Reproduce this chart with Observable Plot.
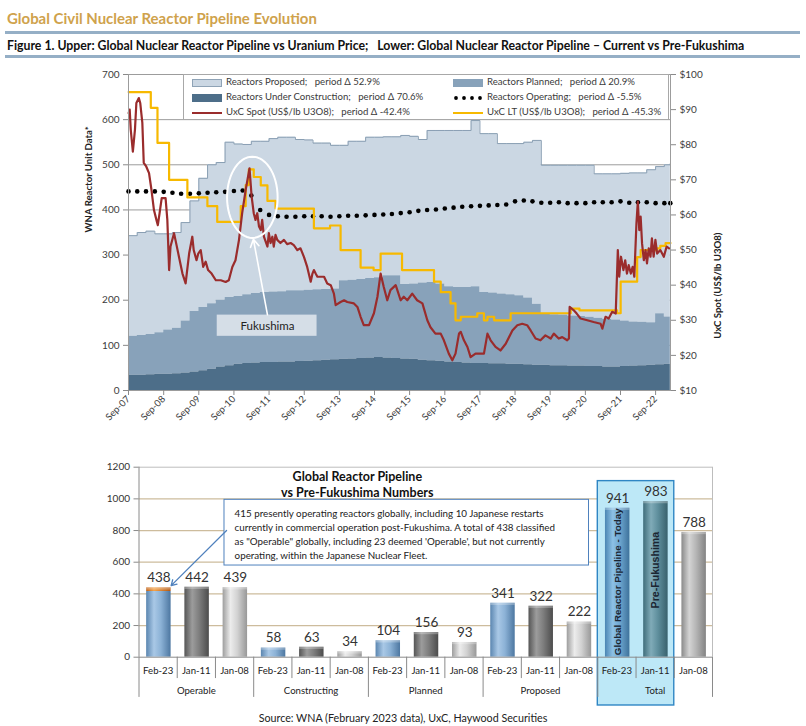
<!DOCTYPE html>
<html><head><meta charset="utf-8">
<script src="https://cdn.jsdelivr.net/npm/d3@7"></script>
<script src="https://cdn.jsdelivr.net/npm/@observablehq/plot@0.6"></script>
<style>
body{margin:0;background:#fff;font-family:Lato,"Open Sans",sans-serif;}
#page{position:relative;width:806px;height:726px;overflow:hidden;background:#fff;}
.abs{position:absolute;}
.rule{position:absolute;left:5px;width:795px;height:3px;background:#95afc6;}
#title{left:7px;top:9px;font-weight:bold;font-size:13px;color:#cfa24c;white-space:pre;}
#subtitle{left:7px;top:38px;font-weight:bold;font-size:11px;color:#111;white-space:pre;}
#caption{left:0;width:806px;top:711px;text-align:center;font-size:10.5px;line-height:13px;color:#222;}
#legend{left:183px;top:74px;width:486px;height:46px;background:#fff;border:1px solid #a8a8a8;box-sizing:border-box;}
.lg{position:absolute;font-size:9.6px;color:#3a3a3a;white-space:pre;line-height:12px;}
.sw{position:absolute;}
</style></head>
<body><div id="page">
<div id="title" class="abs"><span id="titleText">Global Civil Nuclear Reactor Pipeline Evolution</span></div>
<div class="rule" style="top:31px"></div>
<div id="subtitle" class="abs"><span id="subText">Figure 1. Upper: Global Nuclear Reactor Pipeline vs Uranium Price;   Lower: Global Nuclear Reactor Pipeline – Current vs Pre-Fukushima</span></div>
<div class="rule" style="top:55px"></div>
<div id="upper" class="abs" style="left:0;top:60px"></div>
<div id="legend" class="abs"></div>
<div id="lower" class="abs" style="left:0;top:455px"></div>
<div id="caption" class="abs"><span id="capText">Source: WNA (February 2023 data), UxC, Haywood Securities</span></div>
</div>
<script>
// ---------------- DATA: upper chart ----------------
const quarters = ["2007-09","2007-12",
"2008-03","2008-06","2008-09","2008-12","2009-03","2009-06","2009-09","2009-12",
"2010-03","2010-06","2010-09","2010-12","2011-03","2011-06","2011-09","2011-12",
"2012-03","2012-06","2012-09","2012-12","2013-03","2013-06","2013-09","2013-12",
"2014-03","2014-06","2014-09","2014-12","2015-03","2015-06","2015-09","2015-12",
"2016-03","2016-06","2016-09","2016-12","2017-03","2017-06","2017-09","2017-12",
"2018-03","2018-06","2018-09","2018-12","2019-03","2019-06","2019-09","2019-12",
"2020-03","2020-06","2020-09","2020-12","2021-03","2021-06","2021-09","2021-12",
"2022-03","2022-06","2022-09","2022-12","2023-02"];
const underConstruction = [34,34,35,36,36,37,39,41,44,47, 52,55,58,60,61,62,62,63,63,64,
  65,66,67,68,69,70,71,72,73,72, 71,70,69,67,66,65,63,62,61,60,
  60,59,59,58,58,57,56,56,55,55, 54,54,53,53,52,52,53,54,55,56, 57,58,58];
const plannedUnits = [86,88,89,92,98,101,115,134,140,145, 148,151,150,152,154,155,156,156,158,157,
  157,157,157,157,174,174,175,176,177,182, 183,165,167,171,173,171,167,166,167,170,
  157,157,155,154,152,148,135,113,113,112, 111,110,109,107,106,104,101,98,96,94, 113,105,104];
const proposedUnits = [223,228,229,219,213,212,218,245,286,308, 305,344,338,333,337,335,340,342,340,335,
  333,325,324,318,300,308,306,313,311,308, 308,330,327,318,337,340,346,348,348,368,
  352,353,333,335,337,345,363,330,331,332, 334,335,337,320,322,324,327,330,331,339, 326,337,341];
const operatingUnits = [441,441,441,441,440,438,436,436,437,438, 439,440,442,443,432,400,389,386,385,385,
  386,386,386,385,386,387,387,388,389,390, 391,393,395,398,400,401,403,405,407,408,
  409,410,411,412,419,421,419,416,416,417, 415,415,415,417,417,417,419,416,417,417, 415,415,415];
// UxC spot price, [decimal year, US$/lb]
const uxcSpot = [[2007.67,89],[2007.70,90],[2007.73,84.3],[2007.79,78],[2007.85,84.3],[2007.89,91.9],[2007.96,93.3],[2008.00,91.9],[2008.06,86.2],[2008.10,74.8],[2008.17,73.8],[2008.25,71.9],[2008.32,67.1],[2008.39,61.4],[2008.46,58.6],[2008.50,57.1],[2008.55,60.5],[2008.61,64.8],[2008.72,64.8],[2008.77,58.6],[2008.82,44.3],[2008.86,51],[2008.96,54.8],[2009.00,52.9],[2009.10,48.1],[2009.20,43.3],[2009.29,40.5],[2009.39,49],[2009.48,53.8],[2009.52,50],[2009.60,47.1],[2009.65,49],[2009.72,50],[2009.79,45.2],[2009.86,46.7],[2009.93,44.3],[2010.03,43.3],[2010.15,41.4],[2010.29,41.4],[2010.43,40.9],[2010.52,41.4],[2010.62,45.2],[2010.71,47.1],[2010.81,52.9],[2010.90,60.5],[2011.00,67.1],[2011.11,73.3],[2011.17,65.2],[2011.23,60.5],[2011.28,58.6],[2011.33,60.5],[2011.38,56.7],[2011.43,55.7],[2011.47,58.6],[2011.52,53.8],[2011.62,51],[2011.66,54.8],[2011.71,52],[2011.76,53.8],[2011.80,51],[2011.85,54.3],[2011.90,52.9],[2011.99,52],[2012.09,52.9],[2012.18,51.7],[2012.28,52],[2012.37,51.4],[2012.47,50],[2012.56,50.5],[2012.66,48],[2012.75,45.2],[2012.85,41],[2012.90,43.3],[2012.94,44.3],[2012.99,43.3],[2013.04,42.4],[2013.13,42.4],[2013.23,42.4],[2013.32,40.5],[2013.42,40],[2013.51,37.6],[2013.56,34.3],[2013.70,35.2],[2013.80,35.7],[2013.89,35.2],[2014.08,34.8],[2014.18,33.8],[2014.27,31],[2014.36,28.6],[2014.51,28.6],[2014.65,32],[2014.75,36.7],[2014.84,43.3],[2014.93,39.5],[2015.03,35.7],[2015.12,38.6],[2015.27,40],[2015.41,35.7],[2015.50,36.7],[2015.60,35.7],[2015.74,37.6],[2015.88,35.7],[2016.03,34.8],[2016.17,30],[2016.26,28],[2016.40,26.2],[2016.55,26.2],[2016.64,24.3],[2016.78,20.5],[2016.88,18.6],[2016.97,20.5],[2017.07,26.2],[2017.12,26.7],[2017.21,24.3],[2017.31,22.4],[2017.40,19.5],[2017.54,20.5],[2017.68,20.5],[2017.78,20.5],[2017.88,26.2],[2017.97,24.3],[2018.11,22.4],[2018.25,21.4],[2018.40,23.3],[2018.59,27.1],[2018.73,28.6],[2018.87,29],[2019.01,28.6],[2019.11,27.1],[2019.25,24.8],[2019.39,24.3],[2019.53,25.7],[2019.68,24.8],[2019.77,26.2],[2019.91,24.8],[2020.01,25.2],[2020.15,24.3],[2020.20,24.8],[2020.22,33.8],[2020.33,32.9],[2020.42,31.9],[2020.53,30.5],[2020.72,30],[2020.90,29.5],[2021.10,29],[2021.15,27.6],[2021.24,31],[2021.33,30.5],[2021.43,32.4],[2021.53,31.9],[2021.59,50],[2021.63,42.4],[2021.68,48.1],[2021.75,44.3],[2021.80,47.1],[2021.85,43.3],[2021.90,45.7],[2021.96,43.3],[2022.01,45.2],[2022.06,42.4],[2022.12,57.6],[2022.16,63.8],[2022.20,55.7],[2022.24,59.5],[2022.28,51.9],[2022.33,47.1],[2022.38,50],[2022.42,46.2],[2022.47,50.5],[2022.52,48.1],[2022.56,53.3],[2022.61,48.1],[2022.66,52.9],[2022.71,49],[2022.80,50],[2022.90,48.1],[2022.98,51],[2023.05,50.5]];
// UxC long-term price (step changes), [decimal year, US$/lb]
const uxcLT = [[2007.67,95],[2008.30,90.5],[2008.49,80.5],[2008.82,70],[2009.34,65],[2009.91,62.5],[2010.19,58],[2010.86,62.5],[2011.00,68.5],[2011.09,73],[2011.23,70.8],[2011.43,68.4],[2011.62,64],[2011.85,61.8],[2012.94,56.2],[2013.40,57],[2013.70,50],[2014.27,45],[2014.64,44.3],[2014.84,49],[2015.45,44.3],[2016.36,41],[2016.55,38],[2016.83,34.8],[2016.97,30],[2017.12,31],[2017.59,32],[2017.78,30],[2017.88,31],[2018.07,30],[2018.54,32],[2020.25,33.3],[2020.50,32.8],[2021.57,32],[2021.67,41],[2022.14,48],[2022.24,50],[2022.71,50.5],[2022.80,51.2],[2022.95,52],[2023.09,52]];
const leftTicks = [0,100,200,300,400,500,600,700];
const priceTicks = [10,20,30,40,50,60,70,80,90,100];
const yearTicks = [2007,2008,2009,2010,2011,2012,2013,2014,2015,2016,2017,2018,2019,2020,2021,2022];

// ---------------- DATA: lower chart ----------------
const lowerGroups = ["Operable","Constructing","Planned","Proposed","Total"];
const lowerPeriods = ["Feb-23","Jan-11","Jan-08"];
const lowerValues = [[438,442,439],[58,63,34],[104,156,93],[341,322,222],[941,983,788]];
const operatingNow = 415;   // of the 438 operable
const lowerTicks = [0,200,400,600,800,1000,1200];
const noteText = "415 presently operating reactors globally, including 10 Japanese restarts\ncurrently in commercial operation post-Fukushima. A total of 438 classified\nas \"Operable\" globally, including 23 deemed 'Operable', but not currently\noperating, within the Japanese Nuclear Fleet.";

// ---------------- helpers ----------------
const toDate = t => { const y = Math.floor(t); const s = Date.UTC(y,0,1), e = Date.UTC(y+1,0,1); return new Date(s + (t-y)*(e-s)); };
const qDate = s => { const [y,m] = s.split("-").map(Number); return new Date(Date.UTC(y,m-1,1)); };
const p2u = p => (p - 10) * 700 / 90;   // right axis ($10..$100) onto left units (0..700)

const rows = quarters.map((q,i) => {
  const c = underConstruction[i], cp = c + plannedUnits[i];
  return {date:qDate(q), c, cp, total: cp + proposedUnits[i], op: operatingUnits[i]};
});
const spot = uxcSpot.map(([t,p]) => ({date:toDate(t), v:p2u(p)}));
const lt = uxcLT.map(([t,p]) => ({date:toDate(t), v:p2u(p)}));

const ell = d3.range(0,361,6).map(a => ({date: toDate(2011.19 + 0.72*Math.cos(a*Math.PI/180)), v: 428 + 90*Math.sin(a*Math.PI/180)}));

const font = "Lato, 'Open Sans', sans-serif";
const upper = Plot.plot({
  width:806, height:380, marginLeft:128, marginRight:136, marginTop:14, marginBottom:50,
  style:{fontFamily:font, fontSize:"10px", color:"#3c3c3c", background:"transparent", overflow:"visible"},
  x:{type:"utc", domain:[toDate(2007.666), toDate(2023.09)]},
  y:{domain:[0,700]},
  marks:[
    Plot.gridY([100,200,300,400,500,600], {stroke:"#9c9c9c", strokeOpacity:1}),
    Plot.areaY(rows, {x:"date", y1:"cp", y2:"total", fill:"#cbd7e3", curve:"step-after"}),
    Plot.lineY(rows, {x:"date", y:"total", stroke:"#8a9fb3", strokeWidth:1, curve:"step-after"}),
    Plot.areaY(rows, {x:"date", y1:"c", y2:"cp", fill:"#88a2ba", curve:"step-after"}),
    Plot.areaY(rows, {x:"date", y1:0, y2:"c", fill:"#4d6e89", curve:"step-after"}),
    Plot.rect([{x1:toDate(2010.19), x2:toDate(2013.03), y1:120, y2:167}], {x1:"x1", x2:"x2", y1:"y1", y2:"y2", fill:"#d5dee7"}),
    Plot.text([{date:toDate(2011.62), v:143, t:"Fukushima"}], {x:"date", y:"v", text:"t", fontSize:11.5, fill:"#222"}),
    Plot.dot(rows, {x:"date", y:"op", r:2.3, fill:"#000"}),
    Plot.line(lt, {x:"date", y:"v", curve:"step-after", stroke:"#f7b900", strokeWidth:2.2}),
    Plot.line(spot, {x:"date", y:"v", stroke:"#9a2c2c", strokeWidth:2.2}),
    Plot.line(ell, {x:"date", y:"v", stroke:"#fff", strokeWidth:2}),
    Plot.arrow([{x1:toDate(2011.62), y1:168, x2:toDate(2011.22), y2:335}], {x1:"x1", y1:"y1", x2:"x2", y2:"y2", stroke:"#fff", strokeWidth:1.6, headLength:8}),
    Plot.frame({stroke:"#9c9c9c"}),
    Plot.axisY({ticks:leftTicks, tickSize:5, tickPadding:4, label:null, stroke:"#8a8a8a", fontSize:10}),
    Plot.axisY({anchor:"right", ticks:priceTicks.map(p2u), tickFormat:v => "$" + Math.round(v*90/700 + 10), tickSize:5, tickPadding:4, label:null, stroke:"#8a8a8a", fontSize:10}),
    Plot.axisX({ticks:yearTicks.map(y => new Date(Date.UTC(y,8,1))), tickFormat:d3.utcFormat("%b-%y"), tickRotate:-45, tickSize:5, tickPadding:2, label:null, stroke:"#8a8a8a", fontSize:9.5}),
    Plot.text(["WNA Reactor Unit Data*"], {frameAnchor:"left", dx:-40, rotate:-90, text:d=>d, fontWeight:"bold", fontSize:9.6, fill:"#222"}),
    Plot.text(["UxC Spot (US$/lb U3O8)"], {frameAnchor:"right", dx:47, rotate:-90, text:d=>d, fontWeight:"bold", fontSize:9.6, fill:"#222"})
  ]
});
document.getElementById("upper").appendChild(upper);

// legend (HTML overlay inside the upper plot)
const legendItems = [
  {col:0,row:0,kind:"area",color:"#cbd7e3",stroke:"#8fa3b6",label:"Reactors Proposed;   period Δ 52.9%"},
  {col:1,row:0,kind:"area",color:"#88a2ba",stroke:"#88a2ba",label:"Reactors Planned;   period Δ 20.9%"},
  {col:0,row:1,kind:"area",color:"#4d6e89",stroke:"#4d6e89",label:"Reactors Under Construction;   period Δ 70.6%"},
  {col:1,row:1,kind:"dots",color:"#000",label:"Reactors Operating;   period Δ -5.5%"},
  {col:0,row:2,kind:"line",color:"#9a2c2c",label:"UxC Spot (US$/lb U3O8);   period Δ -42.4%"},
  {col:1,row:2,kind:"line",color:"#f7b900",label:"UxC LT (US$/lb U3O8);   period Δ -45.3%"}
];
const lg = document.getElementById("legend");
legendItems.forEach(it => {
  const cx = it.col === 0 ? 8 : 269, cy = 7.5 + it.row*15;
  const s = document.createElementNS("http://www.w3.org/2000/svg","svg");
  s.setAttribute("width",32); s.setAttribute("height",10); s.setAttribute("class","sw");
  s.style.left = cx+"px"; s.style.top = (cy-5)+"px";
  if (it.kind === "area") s.innerHTML = `<rect x="0.5" y="1.5" width="29" height="7" fill="${it.color}" stroke="${it.stroke}"/>`;
  else if (it.kind === "line") s.innerHTML = `<line x1="0" x2="30" y1="5" y2="5" stroke="${it.color}" stroke-width="2"/>`;
  else s.innerHTML = [3,11,19,27].map(x => `<circle cx="${x}" cy="5" r="1.9" fill="#000"/>`).join("");
  lg.appendChild(s);
  const t = document.createElement("div"); t.className = "lg"; t.textContent = it.label;
  t.style.left = (cx+34)+"px"; t.style.top = (cy-6.5)+"px";
  lg.appendChild(t);
});

// ---------------- lower chart ----------------
const fills = [["url(#gBlue)","url(#gDark)","url(#gLight)"],["url(#gBlue)","url(#gDark)","url(#gLight)"],["url(#gBlue)","url(#gDark)","url(#gLight)"],["url(#gBlue)","url(#gDark)","url(#gLight)"],["url(#gBlueT)","url(#gTeal)","url(#gMid)"]];
const slots = [];
lowerGroups.forEach((g,gi) => lowerPeriods.forEach((p,pi) => slots.push({i:gi*3+pi, gi, pi, group:g, period:p, value:lowerValues[gi][pi], fill:fills[gi][pi]})));
const barMarks = [...new Set(slots.map(d => d.fill))].map(f =>
  Plot.rect(slots.filter(d => d.fill === f), {x1:d => d.i+0.2, x2:d => d.i+0.84, y1:0, y2:d => (d.i === 0 ? operatingNow : d.value), fill:f}));

const lower = Plot.plot({
  width:806, height:271, marginLeft:138.5, marginRight:94, marginTop:11.7, marginBottom:69.3,
  style:{fontFamily:font, fontSize:"10px", color:"#333", background:"transparent", overflow:"visible"},
  x:{domain:[0,15], axis:null},
  y:{domain:[0,1200]},
  marks:[
    Plot.gridY([200,400,600,800,1000], {stroke:"#cdbc9d", strokeOpacity:1, strokeWidth:1.3}),
    Plot.ruleY([1200], {stroke:"#bdbdbd"}),
    Plot.ruleX([15], {y1:0, y2:1200, stroke:"#bdbdbd"}),
    Plot.rect([{x1:12, x2:14, y1:-305, y2:1112}], {x1:"x1", x2:"x2", y1:"y1", y2:"y2", fill:"#bde8f7", stroke:"#2f86c4", strokeWidth:1.4}),
    ...barMarks,
    Plot.rect(slots.filter(d => d.i === 0), {x1:d => d.i+0.2, x2:d => d.i+0.84, y1:operatingNow, y2:"value", fill:"url(#gOrange)"}),
    Plot.rect(slots, {x1:d => d.i+0.2, x2:d => d.i+0.84, y1:d => d.value - 14, y2:"value", fill:"#fff", fillOpacity:0.28}),
    Plot.text(slots, {x:d => d.i+0.52, y:"value", text:d => String(d.value), dy:-10, fontSize:13.5, fill:"#333"}),
    Plot.text([{x:12.52, y:0, t:"Global Reactor Pipeline - Today"}], {x:"x", y:"y", text:"t", rotate:-90, textAnchor:"start", dy:-2, fontSize:9.8, fontWeight:"bold", fontFamily:"'Liberation Sans', Arial, sans-serif", fill:"#1b2632"}),
    Plot.text([{x:13.52, y:550, t:"Pre-Fukushima"}], {x:"x", y:"y", text:"t", rotate:-90, fontSize:10.6, fontWeight:"bold", fontFamily:"'Liberation Sans', Arial, sans-serif", fill:"#1b2632"}),
    Plot.ruleY([0], {stroke:"#8a8a8a"}),
    Plot.ruleX([0], {y1:0, y2:1200, stroke:"#8a8a8a"}),
    Plot.ruleX(d3.range(0,16), {y1:0, y2:d => d % 3 === 0 ? -254 : -135, stroke:"#8a8a8a"}),
    Plot.text(slots, {x:d => d.i+0.5, y:0, text:"period", dy:14, fontSize:9.6, fill:"#222"}),
    Plot.text(lowerGroups, {x:(d,i) => i*3+1.5, y:0, text:d => d, dy:34, fontSize:9.6, fill:"#222"}),
    Plot.axisY({ticks:lowerTicks, tickFormat:d => String(d), tickSize:5, tickPadding:4, label:null, stroke:"#8a8a8a", fontSize:10}),
    Plot.text([{x:5.71, y:1094, t:"Global Reactor Pipeline\nvs Pre-Fukushima Numbers"}], {x:"x", y:"y", text:"t", fontSize:12.5, fontWeight:"bold", lineHeight:1.32, fill:"#111"}),
    Plot.rect([{x1:2.236, x2:11.77, y1:579, y2:994}], {x1:"x1", x2:"x2", y1:"y1", y2:"y2", fill:"#fff", stroke:"#4f81bd", strokeWidth:1}),
    Plot.text([{x:2.5, y:946, t:noteText}], {x:"x", y:"y", text:"t", textAnchor:"start", lineAnchor:"top", fontSize:9.8, lineHeight:1.42, fill:"#222"}),
    Plot.arrow([{x1:2.29, y1:800, x2:0.84, y2:452}], {x1:"x1", y1:"y1", x2:"x2", y2:"y2", stroke:"#4f81bd", strokeWidth:1.3, headLength:7})
  ]
});
// gradient definitions inside the lower chart's own svg
const defs = `<defs>
<linearGradient id="gBlue" x1="0" x2="1" y1="0" y2="0"><stop offset="0" stop-color="#5b86b0"/><stop offset="0.32" stop-color="#a9c8e6"/><stop offset="0.6" stop-color="#8cb2d6"/><stop offset="1" stop-color="#4d77a1"/></linearGradient>
<linearGradient id="gDark" x1="0" x2="1" y1="0" y2="0"><stop offset="0" stop-color="#555"/><stop offset="0.32" stop-color="#9c9c9c"/><stop offset="0.6" stop-color="#7e7e7e"/><stop offset="1" stop-color="#4c4c4c"/></linearGradient>
<linearGradient id="gLight" x1="0" x2="1" y1="0" y2="0"><stop offset="0" stop-color="#9e9e9e"/><stop offset="0.32" stop-color="#ececec"/><stop offset="0.6" stop-color="#d2d2d2"/><stop offset="1" stop-color="#989898"/></linearGradient>
<linearGradient id="gBlueT" x1="0" x2="1" y1="0" y2="0"><stop offset="0" stop-color="#4a85b3"/><stop offset="0.32" stop-color="#8dc1e5"/><stop offset="0.6" stop-color="#6ea7d1"/><stop offset="1" stop-color="#3e729b"/></linearGradient>
<linearGradient id="gTeal" x1="0" x2="1" y1="0" y2="0"><stop offset="0" stop-color="#3f6d7b"/><stop offset="0.32" stop-color="#80abb8"/><stop offset="0.6" stop-color="#5f8f9d"/><stop offset="1" stop-color="#38616d"/></linearGradient>
<linearGradient id="gMid" x1="0" x2="1" y1="0" y2="0"><stop offset="0" stop-color="#8a8a8a"/><stop offset="0.32" stop-color="#d4d4d4"/><stop offset="0.6" stop-color="#b5b5b5"/><stop offset="1" stop-color="#838383"/></linearGradient>
<linearGradient id="gOrange" x1="0" x2="1" y1="0" y2="0"><stop offset="0" stop-color="#c0621a"/><stop offset="0.32" stop-color="#f3a24a"/><stop offset="1" stop-color="#b45812"/></linearGradient>
</defs>`;
lower.insertAdjacentHTML("afterbegin", defs);
document.getElementById("lower").appendChild(lower);

// fit header/caption text widths to the reference
function fit(id, w){ const el = document.getElementById(id); const r = el.getBoundingClientRect().width; const fs = parseFloat(getComputedStyle(el).fontSize); el.style.fontSize = (fs*w/r) + "px"; }
fit("titleText", 310); fit("subText", 738); fit("capText", 289);
</script>
</body></html>
